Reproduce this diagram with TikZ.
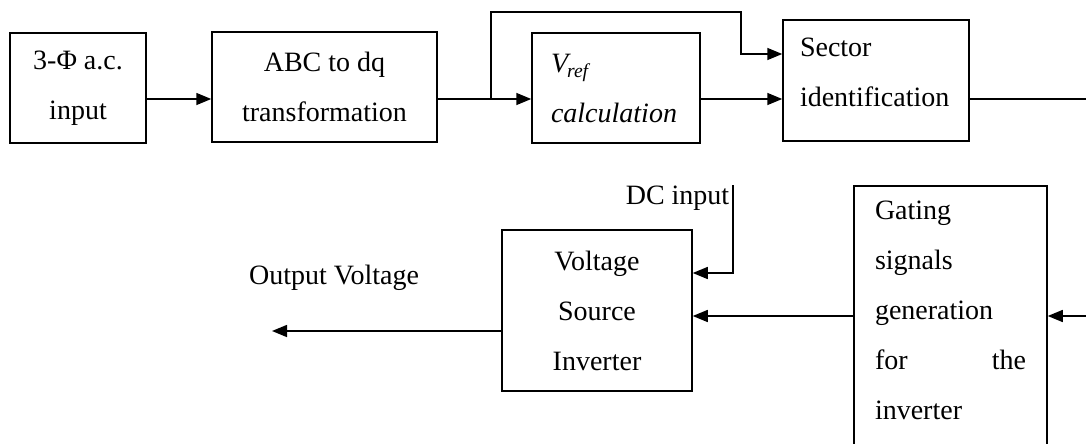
\documentclass[tikz,border=0pt]{standalone}
\usepackage{fontspec}
\setmainfont{Liberation Serif}
\usetikzlibrary{positioning,arrows.meta}

\begin{document}
\begin{tikzpicture}[x=1pt,y=-1pt,line width=1.5pt,font=\fontsize{28}{50}\selectfont,
        >={Triangle[length=15pt,width=12pt]}]
        \tikzstyle{block}=[draw, rectangle, inner sep=0pt, align=center]
        \tikzstyle{signal}=[->]
        \tikzstyle{annot}=[inner sep=0pt]

        \clip (0,0) rectangle (1086,444);

        % Top row
        \node[block, minimum width=136pt, minimum height=110pt] (acin) at (78,88) {3-Φ a.c.\\ input};
        \node[block, minimum width=225pt, minimum height=110pt] (abcdq) at (324.5,87) {ABC to dq\\ transformation};
        \node[block, minimum width=168pt, minimum height=110pt, text width=130pt, align=left] (vref) at (616,88)
            {\textit{V\kern-1pt\textsubscript{ref}}\\ \textit{calculation}};
        \node[block, minimum width=186pt, minimum height=121pt] (sector) at (876,80.5)
            {\parbox[c][85pt][t]{152pt}{\raggedright Sector\\ identification}};

        % Bottom row
        \node[block, minimum width=190pt, minimum height=161pt] (vsi) at (597,310.5) {Voltage\\ Source\\ Inverter};
        \node[block, anchor=north, inner xsep=21pt, inner ysep=15pt] (gating) at (950.5,185)
            {\parbox[t][260pt][t]{151pt}{\raggedright Gating\\ signals\\ generation\\ for\hfill the\\ inverter}};
        \node[annot, anchor=east] (dc) at (730,198) {DC input};
        \node[annot] (outv) at (334,278) {Output Voltage};

        % Connect nodes
        \coordinate (row) at (0,99);
        \coordinate (split) at (491,99);
        \coordinate (fb) at (741,54);
        \coordinate (edgeR) at (1086,99);
        \draw[signal] (acin.east |- row) -- (abcdq.west |- row);
        \draw[signal] (abcdq.east |- row) -- (vref.west |- row);
        \draw[signal] (split) -- ++(0,-87) -| (fb) -- (sector.west |- fb);
        \draw[signal] (vref.east |- row) -- (sector.west |- row);
        \draw (sector.east |- row) -- (edgeR);

        \coordinate (gin) at (1086,316);
        \coordinate (dctop) at (733,185);
        \coordinate (dcturn) at (733,273);
        \coordinate (outend) at (272,331);
        \draw[signal] (gin) -- (gating.east |- gin);
        \draw[signal] (gating.west |- gin) -- (vsi.east |- gin);
        \draw[signal] (dctop) -- (dcturn) -- (vsi.east |- dcturn);
        \draw[signal] (vsi.west |- outend) -- (outend);

    \end{tikzpicture}
\end{document}
